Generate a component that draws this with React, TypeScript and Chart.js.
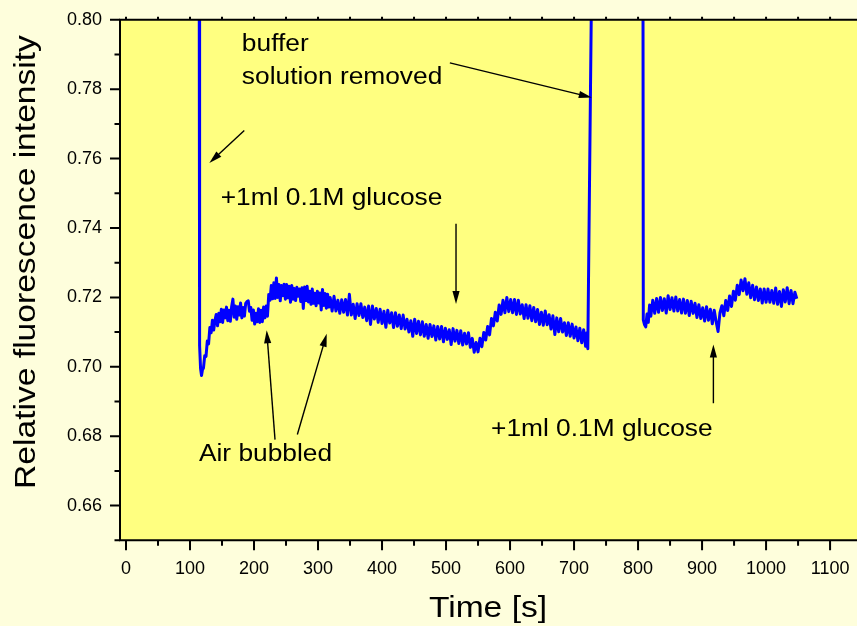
import { useEffect, useRef } from "react";
import { Chart, registerables } from "chart.js";

Chart.register(...registerables);

const FONT = '"Liberation Sans", Arial, Helvetica, sans-serif';
const OUTER_BG = "#FEFEDC";
const PLOT_BG = "#FFFF80";
const LINE_COLOR = "#0000FF";
const SX = 1.12; // horizontal stretch of the original lettering

// ---- axes ----
const xTicks = [0, 100, 200, 300, 400, 500, 600, 700, 800, 900, 1000, 1100];
const xMinorTicks = [50, 150, 250, 350, 450, 550, 650, 750, 850, 950, 1050, 1150];
const yTicks = [0.66, 0.68, 0.7, 0.72, 0.74, 0.76, 0.78, 0.8];
const yMinorTicks = [0.65, 0.67, 0.69, 0.71, 0.73, 0.75, 0.77, 0.79];
const xMin = -9.375;
const xMax = 1178;
const yMin = 0.65;
const yMax = 0.8;

// ---- series: first recording segment ----
const time1 = [
  114.3, 115, 116.5, 118, 119.5, 121, 123, 125, 127, 129,
  131, 133, 135, 137, 139, 141, 143, 145, 147, 149,
  151, 153, 155, 157, 159, 161, 163, 165, 167, 169,
  171, 173, 175, 177, 179, 181, 183, 185, 187, 189,
  191, 193, 195, 197, 199, 201, 203, 205, 207, 209,
  211, 213, 215, 217, 219, 221, 223, 225, 227, 229,
  231, 233, 235, 237, 239, 241, 243, 245, 247, 249,
  251, 253, 255, 257, 259, 261, 263, 265, 267, 269,
  271, 273, 275, 277, 279, 281, 283, 285, 287, 289,
  291, 293, 295, 297, 299, 301, 303, 305, 307, 309,
  311, 313, 315, 317, 319, 322, 325, 328, 331, 334,
  337, 340, 343, 346, 349, 352, 355, 358, 361, 364,
  367, 370, 373, 376, 379, 382, 385, 388, 391, 394,
  397, 400, 403, 406, 409, 412, 415, 418, 421, 424,
  427, 430, 433, 436, 439, 442, 445, 448, 451, 454,
  457, 460, 463, 466, 469, 472, 475, 478, 481, 484,
  487, 490, 493, 496, 499, 502, 505, 508, 511, 514,
  517, 520, 523, 526, 529, 532, 535, 538, 541, 544,
  547, 550, 553, 556, 559, 562, 565, 568, 571, 574,
  577, 580, 583, 586, 589, 592, 595, 598, 601, 604,
  607, 610, 613, 616, 619, 622, 625, 628, 631, 634,
  637, 640, 643, 646, 649, 652, 655, 658, 661, 664,
  667, 670, 673, 676, 679, 682, 685, 688, 691, 694,
  697, 700, 703, 706, 709, 712, 715, 718, 720, 721.5,
  724, 728.5,
];
const intensity1 = [
  0.83, 0.706, 0.6995, 0.6975, 0.6992, 0.6996, 0.7032, 0.703, 0.7074, 0.7066,
  0.7113, 0.7098, 0.7134, 0.7106, 0.7134, 0.7151, 0.7118, 0.7154, 0.713, 0.7166,
  0.7128, 0.7164, 0.7141, 0.7172, 0.7133, 0.7163, 0.7131, 0.7173, 0.7195, 0.7143,
  0.7175, 0.7137, 0.7173, 0.7149, 0.7184, 0.7141, 0.7171, 0.7146, 0.7183, 0.7188,
  0.719, 0.716, 0.7171, 0.7134, 0.7164, 0.7123, 0.7154, 0.713, 0.7167, 0.7128,
  0.7163, 0.713, 0.7172, 0.7141, 0.7175, 0.7146, 0.7208, 0.7192, 0.7234, 0.7196,
  0.7242, 0.7197, 0.7256, 0.72, 0.7237, 0.719, 0.7234, 0.7205, 0.7238, 0.7195,
  0.7237, 0.7199, 0.7232, 0.7186, 0.7234, 0.7195, 0.7226, 0.7191, 0.7229, 0.7203,
  0.7224, 0.7188, 0.7228, 0.7168, 0.723, 0.7191, 0.7232, 0.7187, 0.7218, 0.718,
  0.7224, 0.7183, 0.7212, 0.7176, 0.7218, 0.7184, 0.7213, 0.7164, 0.7223, 0.7177,
  0.7211, 0.7169, 0.7209, 0.7172, 0.72, 0.7161, 0.7203, 0.7161, 0.7192, 0.7154,
  0.7193, 0.7157, 0.7194, 0.7149, 0.7209, 0.7149, 0.718, 0.7139, 0.7182, 0.7148,
  0.7182, 0.7142, 0.7172, 0.7133, 0.7175, 0.7122, 0.7175, 0.7138, 0.7168, 0.7128,
  0.7166, 0.7125, 0.716, 0.7114, 0.7163, 0.7126, 0.7156, 0.7113, 0.7156, 0.7117,
  0.7149, 0.711, 0.7149, 0.7109, 0.7137, 0.71, 0.7133, 0.7088, 0.7137, 0.7096,
  0.7131, 0.7092, 0.713, 0.7088, 0.7122, 0.7082, 0.7122, 0.7087, 0.7118, 0.7077,
  0.7116, 0.708, 0.7116, 0.7072, 0.7111, 0.7079, 0.7107, 0.7064, 0.711, 0.7074,
  0.7105, 0.7067, 0.7104, 0.7063, 0.7097, 0.7066, 0.7098, 0.7056, 0.7082, 0.7042,
  0.707, 0.7043, 0.7082, 0.7058, 0.7099, 0.7077, 0.7116, 0.7092, 0.7139, 0.7118,
  0.7157, 0.7132, 0.7178, 0.7151, 0.7192, 0.7156, 0.72, 0.7159, 0.7194, 0.7156,
  0.7194, 0.7151, 0.7192, 0.7152, 0.7179, 0.7139, 0.7179, 0.714, 0.7176, 0.7133,
  0.7171, 0.713, 0.7165, 0.7122, 0.7157, 0.712, 0.7161, 0.7121, 0.715, 0.7109,
  0.7147, 0.7093, 0.7141, 0.7101, 0.7139, 0.71, 0.7127, 0.709, 0.7127, 0.7088,
  0.7123, 0.7083, 0.7115, 0.7075, 0.7111, 0.7069, 0.7107, 0.7059, 0.7098, 0.7052,
  0.75, 0.83,
];

// ---- series: second recording segment ----
const time2 = [
  807.6, 808.2, 810, 812, 814, 816, 818, 820, 823, 826,
  829, 832, 835, 838, 841, 844, 847, 850, 853, 856,
  859, 862, 865, 868, 871, 874, 877, 880, 883, 886,
  889, 892, 895, 898, 901, 904, 907, 910, 913, 916,
  919, 922, 925, 928, 931, 934, 937, 940, 943, 946,
  949, 952, 955, 958, 961, 964, 967, 970, 973, 976,
  979, 982, 985, 988, 991, 994, 997, 1000, 1003, 1006,
  1009, 1012, 1015, 1018, 1021, 1024, 1027, 1030, 1033, 1036,
  1039, 1042, 1045, 1048,
];
const intensity2 = [
  0.83, 0.7135, 0.7122, 0.7115, 0.7152, 0.7128, 0.7178, 0.7146, 0.7192, 0.7154,
  0.7197, 0.7157, 0.72, 0.7162, 0.7196, 0.7155, 0.7205, 0.7165, 0.7199, 0.7161,
  0.7201, 0.7161, 0.7194, 0.7155, 0.7195, 0.7154, 0.7191, 0.7148, 0.7189, 0.7154,
  0.7183, 0.7142, 0.7179, 0.7139, 0.717, 0.7132, 0.7173, 0.7134, 0.7166, 0.7124,
  0.7163, 0.713, 0.7102, 0.7156, 0.7176, 0.7147, 0.7191, 0.7162, 0.7204, 0.7174,
  0.7218, 0.7192, 0.7235, 0.7208, 0.725, 0.7219, 0.7254, 0.7209, 0.7242, 0.7199,
  0.7235, 0.7193, 0.723, 0.7191, 0.7224, 0.7184, 0.7224, 0.7186, 0.7224, 0.7186,
  0.722, 0.7183, 0.7227, 0.718, 0.7217, 0.7174, 0.7222, 0.7187, 0.7228, 0.7182,
  0.722, 0.7182, 0.7215, 0.7196,
];
const gapTime = 765;

// ---- annotations (data coordinates) ----
const noteTexts = ["buffer", "solution removed", "+1ml 0.1M glucose", "Air bubbled", "+1ml 0.1M glucose"];
const noteX = [181, 181, 148, 114, 570.3];
const noteY = [0.7909, 0.7816, 0.7467, 0.6729, 0.6801];

const arrowFromX = [506, 184.8, 515.6, 232.8, 267.7, 917.7];
const arrowFromY = [0.7876, 0.7681, 0.7412, 0.679, 0.6805, 0.6895];
const arrowToX = [727.7, 130.2, 515.6, 219.8, 313.6, 917.7];
const arrowToY = [0.7776, 0.7587, 0.7181, 0.7105, 0.7095, 0.7064];

const xTitle = "Time [s]";
const yTitle = "Relative fluorescence intensity";

function drawText(ctx: CanvasRenderingContext2D, text: string, x: number, y: number, size: number, align: CanvasTextAlign, rot = 0) {
  ctx.save();
  ctx.translate(x, y);
  if (rot) ctx.rotate(rot);
  ctx.scale(SX, 1);
  ctx.font = `${size}px ${FONT}`;
  ctx.fillStyle = "#000";
  ctx.textAlign = align;
  ctx.textBaseline = "alphabetic";
  ctx.fillText(text, 0, 0);
  ctx.restore();
}

function drawArrow(ctx: CanvasRenderingContext2D, x1: number, y1: number, x2: number, y2: number) {
  const ang = Math.atan2(y2 - y1, x2 - x1);
  const c = Math.cos(ang);
  const s = Math.sin(ang);
  const L = 13;
  const W = 3.6;
  ctx.beginPath();
  ctx.moveTo(x1, y1);
  ctx.lineTo(x2 - (L - 2) * c, y2 - (L - 2) * s);
  ctx.stroke();
  ctx.beginPath();
  ctx.moveTo(x2, y2);
  ctx.lineTo(x2 - L * c - W * s, y2 - L * s + W * c);
  ctx.lineTo(x2 - L * c + W * s, y2 - L * s - W * c);
  ctx.closePath();
  ctx.fill();
}

const decor = {
  id: "decor",
  beforeDraw(chart: any) {
    const { ctx, chartArea: a } = chart;
    ctx.save();
    ctx.fillStyle = OUTER_BG;
    ctx.fillRect(0, 0, chart.width, chart.height);
    ctx.fillStyle = PLOT_BG;
    ctx.fillRect(a.left, a.top, a.right - a.left, a.bottom - a.top);
    ctx.restore();
  },
  afterDraw(chart: any) {
    const { ctx, chartArea: a } = chart;
    const xs = chart.scales.x;
    const ys = chart.scales.y;
    ctx.save();
    ctx.strokeStyle = "#000";
    ctx.fillStyle = "#000";
    ctx.lineWidth = 2;
    ctx.lineCap = "butt";
    // frame
    ctx.beginPath();
    ctx.moveTo(a.left - 1, a.top);
    ctx.lineTo(a.right, a.top);
    ctx.moveTo(a.left - 1, a.bottom);
    ctx.lineTo(a.right, a.bottom);
    ctx.moveTo(a.left, a.top);
    ctx.lineTo(a.left, a.bottom);
    ctx.moveTo(a.right, a.top);
    ctx.lineTo(a.right, a.bottom);
    ctx.stroke();
    // ticks
    ctx.beginPath();
    xTicks.forEach((v) => {
      const p = xs.getPixelForValue(v);
      ctx.moveTo(p, a.bottom);
      ctx.lineTo(p, a.bottom + 10);
      ctx.moveTo(p, a.top);
      ctx.lineTo(p, a.top - 3);
    });
    xMinorTicks.forEach((v) => {
      const p = xs.getPixelForValue(v);
      ctx.moveTo(p, a.bottom);
      ctx.lineTo(p, a.bottom + 5.5);
      ctx.moveTo(p, a.top);
      ctx.lineTo(p, a.top - 3);
    });
    yTicks.forEach((v) => {
      const p = ys.getPixelForValue(v);
      ctx.moveTo(a.left, p);
      ctx.lineTo(a.left - 10, p);
    });
    yMinorTicks.forEach((v) => {
      const p = ys.getPixelForValue(v);
      ctx.moveTo(a.left, p);
      ctx.lineTo(a.left - 5.5, p);
    });
    ctx.stroke();

    // annotation arrows
    ctx.lineWidth = 1.4;
    arrowFromX.forEach((_, i) => {
      drawArrow(
        ctx,
        xs.getPixelForValue(arrowFromX[i]),
        ys.getPixelForValue(arrowFromY[i]),
        xs.getPixelForValue(arrowToX[i]),
        ys.getPixelForValue(arrowToY[i])
      );
    });
    // annotation texts
    noteTexts.forEach((t, i) => {
      drawText(ctx, t, xs.getPixelForValue(noteX[i]), ys.getPixelForValue(noteY[i]), 23.5, "left");
    });
    // axis titles
    drawText(ctx, xTitle, 488, 617, 30, "center");
    drawText(ctx, yTitle, 35, 262, 30, "center", -Math.PI / 2);
    ctx.restore();
  },
};

export default function App() {
  const ref = useRef<HTMLCanvasElement>(null);
  useEffect(() => {
    if (!ref.current) return;
    const points: any[] = time1.map((t, i) => ({ x: t, y: intensity1[i] }));
    points.push({ x: gapTime, y: null });
    time2.forEach((t, i) => points.push({ x: t, y: intensity2[i] }));

    const tickFont = { family: FONT, size: 18 };
    const chart = new Chart(ref.current, {
      type: "line",
      data: {
        datasets: [
          {
            data: points,
            borderColor: LINE_COLOR,
            borderWidth: 3,
            pointRadius: 0,
            tension: 0,
            spanGaps: false,
            fill: false,
            borderJoinStyle: "round",
          },
        ],
      },
      options: {
        animation: false,
        responsive: false,
        maintainAspectRatio: false,
        layout: { padding: { top: 18.3, left: 0, right: 0, bottom: 0 } },
        plugins: { legend: { display: false }, tooltip: { enabled: false }, title: { display: false } },
        scales: {
          x: {
            type: "linear",
            min: xMin,
            max: xMax,
            afterBuildTicks: (s: any) => {
              s.ticks = xTicks.map((v) => ({ value: v }));
            },
            afterFit: (s: any) => {
              s.height = 85.7;
            },
            grid: { display: true, drawOnChartArea: false, drawTicks: true, tickLength: 9, color: "rgba(0,0,0,0)" },
            border: { display: false },
            ticks: {
              padding: 9,
              color: "#000",
              font: tickFont,
              maxRotation: 0,
              autoSkip: false,
              callback: (v: any) => String(v),
            },
          },
          y: {
            type: "linear",
            min: yMin,
            max: yMax,
            afterBuildTicks: (s: any) => {
              s.ticks = yTicks.map((v) => ({ value: v }));
            },
            afterFit: (s: any) => {
              s.width = 120;
            },
            grid: { display: true, drawOnChartArea: false, drawTicks: true, tickLength: 9, color: "rgba(0,0,0,0)" },
            border: { display: false },
            ticks: {
              padding: 9,
              color: "#000",
              font: tickFont,
              autoSkip: false,
              callback: (v: any) => Number(v).toFixed(2),
            },
          },
        },
      },
      plugins: [decor],
    } as any);
    return () => chart.destroy();
  }, []);

  return (
    <div
      style={{
        position: "fixed",
        left: 0,
        top: 0,
        width: 857,
        height: 626,
        overflow: "hidden",
        background: OUTER_BG,
      }}
    >
      <canvas ref={ref} width={880} height={626} style={{ display: "block" }} />
    </div>
  );
}
